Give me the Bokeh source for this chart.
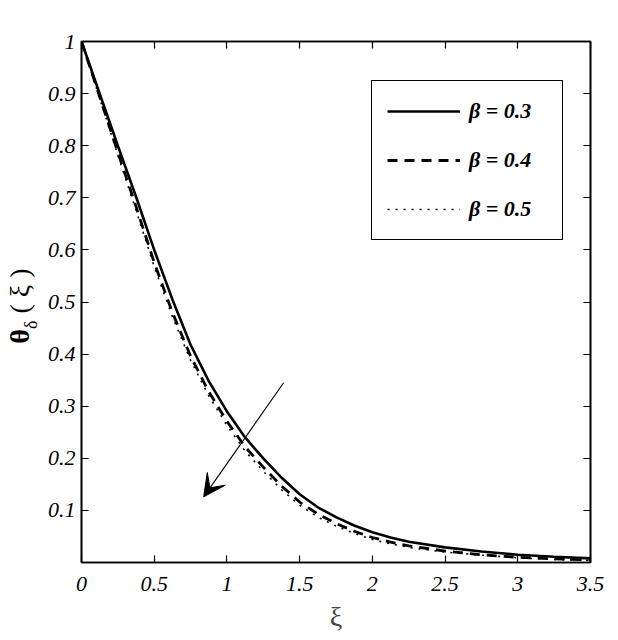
from bokeh.plotting import figure
from bokeh.models import (LinearAxis, FixedTicker, Legend, LegendItem,
                          Arrow, VeeHead, Range1d, Div)
from bokeh.layouts import row
from bokeh.embed import file_html
from bokeh.resources import INLINE

# ---- data ----
xi = [0, 0.125, 0.25, 0.375, 0.5, 0.625, 0.75, 0.875, 1.0, 1.125, 1.25, 1.375,
      1.5, 1.625, 1.75, 1.875, 2.0, 2.125, 2.25, 2.5, 2.75, 3.0, 3.25, 3.5]
theta_b03 = [1.000, 0.900, 0.800, 0.702, 0.600, 0.505, 0.418, 0.348, 0.290, 0.240,
             0.200, 0.163, 0.131, 0.106, 0.087, 0.071, 0.058, 0.048, 0.040, 0.029,
             0.021, 0.015, 0.011, 0.008]
theta_b04 = [1.000, 0.894, 0.787, 0.683, 0.576, 0.480, 0.396, 0.328, 0.271, 0.222,
             0.183, 0.147, 0.116, 0.093, 0.075, 0.060, 0.048, 0.039, 0.032, 0.022,
             0.015, 0.010, 0.007, 0.005]
theta_b05 = [1.000, 0.891, 0.782, 0.676, 0.568, 0.472, 0.388, 0.320, 0.263, 0.214,
             0.175, 0.140, 0.110, 0.087, 0.070, 0.056, 0.044, 0.036, 0.029, 0.020,
             0.014, 0.009, 0.006, 0.004]
series_labels = ["β = 0.3", "β = 0.4", "β = 0.5"]

x_ticks = [0, 0.5, 1, 1.5, 2, 2.5, 3, 3.5]
x_tick_labels = ["0", "0.5", "1", "1.5", "2", "2.5", "3", "3.5"]
y_ticks = [0.1, 0.2, 0.3, 0.4, 0.5, 0.6, 0.7, 0.8, 0.9, 1]
y_tick_labels = ["0.1", "0.2", "0.3", "0.4", "0.5", "0.6", "0.7", "0.8", "0.9", "1"]

# trend arrow (from, to) in data units
arrow_from = (1.39, 0.345)
arrow_to = (0.84, 0.126)

FONT = "Liberation Serif"

p = figure(width=578, height=640, output_backend="svg", toolbar_location=None,
           x_range=Range1d(0, 3.5), y_range=Range1d(0, 1),
           min_border_left=41, min_border_top=41, min_border_right=28,
           min_border_bottom=78)
p.xgrid.visible = False
p.ygrid.visible = False
p.outline_line_color = "black"
p.outline_line_width = 1.6
p.background_fill_color = "white"
p.border_fill_color = "white"

def style_axis(ax, ticks, labels=None):
    ax.ticker = FixedTicker(ticks=ticks)
    ax.major_tick_in = 7
    ax.major_tick_out = 0
    ax.minor_tick_in = 0
    ax.minor_tick_out = 0
    ax.axis_line_color = "black"
    ax.axis_line_width = 1.6
    ax.major_tick_line_color = "black"
    ax.major_tick_line_width = 1.2
    if labels is not None:
        ax.major_label_overrides = dict(zip(ticks, labels))
        ax.major_label_text_font = FONT
        ax.major_label_text_font_style = "italic"
        ax.major_label_text_font_size = "22px"
        ax.major_label_text_color = "black"
    else:
        ax.major_label_text_font_size = "8px"
        ax.major_label_text_color = None

style_axis(p.xaxis[0], x_ticks, x_tick_labels)
style_axis(p.yaxis[0], y_ticks, y_tick_labels)
p.xaxis[0].major_label_standoff = 14
p.yaxis[0].major_label_standoff = 6
p.xaxis[0].axis_label = "ξ"
p.xaxis[0].axis_label_text_font = FONT
p.xaxis[0].axis_label_text_font_style = "normal"
p.xaxis[0].axis_label_text_font_size = "28px"
p.xaxis[0].axis_label_standoff = 7

top = LinearAxis()
style_axis(top, x_ticks)
right = LinearAxis()
style_axis(right, y_ticks)
p.add_layout(top, "above")
p.add_layout(right, "right")

r1 = p.line(xi, theta_b03, line_color="black", line_width=2.6)
r2 = p.line(xi, theta_b04, line_color="black", line_width=2.8, line_dash="10 7")
r3 = p.line(xi, theta_b05, line_color="black", line_width=1.6, line_dash="2 6")

legend = Legend(items=[LegendItem(label=series_labels[0], renderers=[r1]),
                       LegendItem(label=series_labels[1], renderers=[r2]),
                       LegendItem(label=series_labels[2], renderers=[r3])],
                location=(290, 322), margin=0, padding=15, spacing=19,
                glyph_width=73, glyph_height=30, label_standoff=9, label_width=78,
                label_text_font=FONT, label_text_font_style="bold italic",
                label_text_font_size="22px", label_text_color="black",
                border_line_color="black", border_line_width=1.6,
                border_line_alpha=1.0,
                background_fill_color="white", background_fill_alpha=1.0)
p.add_layout(legend)

p.add_layout(Arrow(end=VeeHead(size=22, fill_color="black", line_color="black"),
                   x_start=arrow_from[0], y_start=arrow_from[1],
                   x_end=arrow_to[0], y_end=arrow_to[1],
                   line_color="black", line_width=1.1))

# y-axis label: theta with subscript delta, rotated
ylabel = Div(
    text=('<div style="position:relative;width:40px;height:640px;background:white;">'
          '<div style="position:absolute;left:20px;top:306px;'
          'transform:translate(-50%,-50%) rotate(-90deg);white-space:nowrap;'
          "font-family:'Liberation Serif';font-size:28px;color:black;line-height:1;\">"
          '<b>θ</b><span style="font-size:18px;position:relative;top:8px;">δ</span>'
          '&nbsp;(&nbsp;ξ&nbsp;)</div></div>'),
    width=40, height=640, margin=0)

layout = row(ylabel, p, spacing=0)
open("out.html", "w").write(file_html(layout, INLINE))
